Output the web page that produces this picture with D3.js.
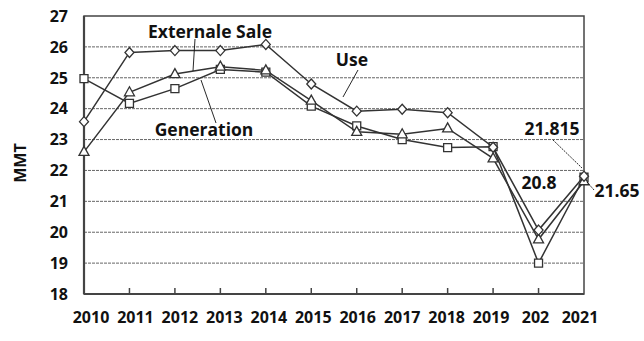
<!DOCTYPE html>
<html>
<head>
  <meta charset="utf-8">
  <title>MMT by year</title>
  <style>
    body { margin: 0; background: #fff; }
    text { font-family: "Open Sans", sans-serif; font-weight: bold; fill: #111; }
  </style>
</head>
<body>
  <script src="https://cdn.jsdelivr.net/npm/d3@7/dist/d3.min.js"></script>
  <script>
    // data
    const years = ["2010", "2011", "2012", "2013", "2014", "2015", "2016", "2017", "2018", "2019", "2020", "2021"];
    const yearLabels = ["2010", "2011", "2012", "2013", "2014", "2015", "2016", "2017", "2018", "2019", "202", "2021"];
    const useVals = [23.58, 25.82, 25.88, 25.88, 26.08, 24.8, 23.92, 23.98, 23.87, 22.75, 20.07, 21.815];
    const generationVals = [24.97, 24.17, 24.65, 25.27, 25.18, 24.08, 23.44, 23.0, 22.74, 22.77, 19.0, 21.78];
    const saleVals = [22.6, 24.53, 25.12, 25.36, 25.24, 24.26, 23.25, 23.17, 23.36, 22.39, 19.77, 21.65];
    const yTicks = [18, 19, 20, 21, 22, 23, 24, 25, 26, 27];

    const W = 644, H = 341;
    const margin = {top: 16, right: 60, bottom: 47, left: 84};
    const width = W - margin.left - margin.right;
    const height = H - margin.top - margin.bottom;

    const svg = d3.select("body").append("svg")
      .attr("width", W)
      .attr("height", H);

    const g = svg.append("g")
      .attr("transform", "translate(" + margin.left + "," + margin.top + ")");

    const x = d3.scalePoint().domain(years).range([0, width]);
    const xLab = d3.scalePoint().domain(years).range([7, width - 4]);
    const y = d3.scaleLinear().domain([18, 27]).range([height, 0]);

    // dashed grid lines
    g.selectAll(".grid")
      .data(yTicks.filter(function(d) { return d > 18 && d < 27; }))
      .enter().append("line")
      .attr("x1", 0).attr("x2", width)
      .attr("y1", function(d) { return y(d); })
      .attr("y2", function(d) { return y(d); })
      .attr("stroke", "#666")
      .attr("stroke-width", 1)
      .attr("stroke-dasharray", "3,1");

    // frame
    g.append("rect")
      .attr("width", width).attr("height", height)
      .attr("fill", "none").attr("stroke", "#444").attr("stroke-width", 1.5);
    g.append("line").attr("x1", 0).attr("x2", 0).attr("y1", 0).attr("y2", height)
      .attr("stroke", "#444").attr("stroke-width", 2.2);
    g.append("line").attr("x1", 0).attr("x2", width).attr("y1", height).attr("y2", height)
      .attr("stroke", "#444").attr("stroke-width", 2.2);

    // x ticks (inward)
    g.selectAll(".xtick")
      .data(years.slice(1, -1))
      .enter().append("line")
      .attr("x1", function(d) { return x(d); })
      .attr("x2", function(d) { return x(d); })
      .attr("y1", height).attr("y2", height - 6)
      .attr("stroke", "#444").attr("stroke-width", 1.5);

    g.selectAll(".xlab")
      .data(years)
      .enter().append("text")
      .attr("x", function(d) { return xLab(d); })
      .attr("y", height + 29)
      .attr("text-anchor", "middle")
      .attr("font-size", "16px")
      .text(function(d, i) { return yearLabels[i]; });

    g.selectAll(".ylab")
      .data(yTicks)
      .enter().append("text")
      .attr("x", -16)
      .attr("y", function(d) { return y(d); })
      .attr("dy", "0.36em")
      .attr("text-anchor", "end")
      .attr("font-size", "16px")
      .text(function(d) { return d; });

    svg.append("text")
      .attr("transform", "translate(26," + 163 + ") rotate(-90)")
      .attr("text-anchor", "middle")
      .attr("font-size", "16px")
      .text("MMT");

    const line = d3.line()
      .x(function(d, i) { return x(years[i]); })
      .y(function(d) { return y(d); });

    const stroke = "#333";

    function drawSeries(vals, shape) {
      g.append("path")
        .datum(vals)
        .attr("d", line)
        .attr("fill", "none")
        .attr("stroke", stroke)
        .attr("stroke-width", 1.5);
      g.selectAll(null)
        .data(vals)
        .enter().append("path")
        .attr("transform", function(d, i) { return "translate(" + x(years[i]) + "," + y(d) + ")"; })
        .attr("d", shape)
        .attr("fill", "#fff")
        .attr("stroke", stroke)
        .attr("stroke-width", 1.3);
    }

    const diamond = "M0,-5L4.5,0L0,5L-4.5,0Z";
    const square = "M-4,-4H4V4H-4Z";
    const triangle = "M0,-5.5L5,3.5H-5Z";

    drawSeries(generationVals, square);
    drawSeries(saleVals, triangle);
    drawSeries(useVals, diamond);

    // annotations (pixel space)
    function leader(x1, y1, x2, y2, dash) {
      svg.append("line")
        .attr("x1", x1).attr("y1", y1).attr("x2", x2).attr("y2", y2)
        .attr("stroke", "#111").attr("stroke-width", 0.9)
        .attr("stroke-dasharray", dash || null);
    }
    function label(tx, ty, t) {
      svg.append("text")
        .attr("x", tx).attr("y", ty)
        .attr("dy", "0.36em")
        .attr("text-anchor", "middle")
        .attr("font-size", "17.5px")
        .text(t);
    }

    label(210, 32, "Externale Sale");
    leader(195, 39, 193, 71);
    label(204, 130, "Generation");
    leader(201, 80, 216, 123);
    label(352, 60, "Use");
    leader(358, 70, 343, 97);
    label(552, 129, "21.815");
    leader(553, 140, 582, 168, "2,1");
    label(539, 183, "20.8");
    label(617, 191, "21.65");
    leader(594, 190, 587, 182, "2,1");
  </script>
</body>
</html>
